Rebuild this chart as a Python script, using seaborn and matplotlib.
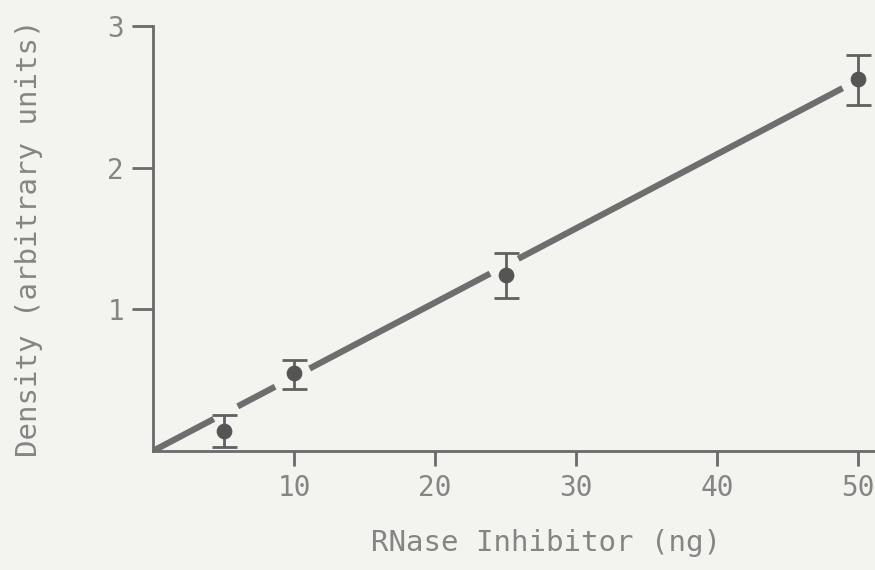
import numpy as np
import pandas as pd
import matplotlib
matplotlib.use("Agg")
import matplotlib.pyplot as plt
import seaborn as sns

inhibitor_ng = [5, 10, 25, 50]
density = [0.14, 0.55, 1.24, 2.63]
err_low = [0.11, 0.11, 0.16, 0.19]
err_high = [0.11, 0.09, 0.16, 0.17]

# fitted line, drawn in pieces with gaps around the points
fit_slope = 0.0524
fit_segments = [(0.0, 4.3), (6.0, 8.65), (11.1, 23.9), (25.9, 48.9)]

x_ticks = [10, 20, 30, 40, 50]
y_ticks = [1, 2, 3]

paper = "#f3f3ef"
ink = "#555555"
text_col = "#858585"

sns.set_style("ticks")
plt.rcParams["font.family"] = ["DejaVu Sans Mono", "DejaVu Sans"]

df = pd.DataFrame({"x": inhibitor_ng, "y": density})

fig = plt.figure(figsize=(8.75, 5.7), dpi=100, facecolor=paper)
ax = fig.add_axes([0.175, 0.209, 0.825, 0.745])
ax.set_facecolor(paper)

for a, b in fit_segments:
    seg = pd.DataFrame({"x": [a, b], "y": [fit_slope * a, fit_slope * b]})
    sns.lineplot(data=seg, x="x", y="y", ax=ax, color="#6e6e6e", linewidth=4.5,
                 solid_capstyle="butt")

ax.errorbar(df["x"], df["y"], yerr=[err_low, err_high], fmt="none",
            ecolor="#606060", elinewidth=2, capsize=9, capthick=2)
sns.scatterplot(data=df, x="x", y="y", ax=ax, color=ink, s=110,
                edgecolor=ink, zorder=5)

ax.set_xlim(0, 51.2)
ax.set_ylim(0, 3)
ax.set_xticks(x_ticks)
ax.set_yticks(y_ticks)

for side in ["top", "right"]:
    ax.spines[side].set_visible(False)
for side in ["left", "bottom"]:
    ax.spines[side].set_color("#6a6a6a")
    ax.spines[side].set_linewidth(2)

ax.tick_params(axis="y", length=15, width=2, color="#6a6a6a", pad=6,
               labelsize=20, labelcolor=text_col)
ax.tick_params(axis="x", length=11, width=2, color="#6a6a6a", pad=6,
               labelsize=20, labelcolor=text_col)

ax.set_xlabel("RNase Inhibitor (ng)", fontsize=21, color=text_col)
ax.set_ylabel("Density (arbitrary units)", fontsize=21, color=text_col)
ax.xaxis.set_label_coords(0.544, -0.185)
ax.yaxis.set_label_coords(-0.152, 0.5)

fig.savefig("out.png", dpi=100, facecolor=paper)
